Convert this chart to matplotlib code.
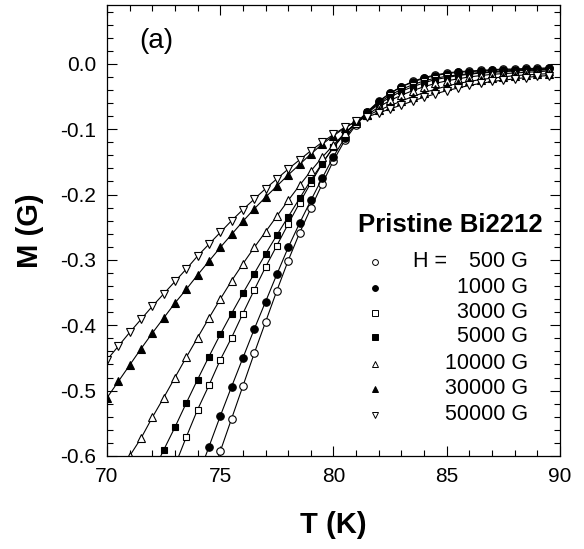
import numpy as np
import matplotlib
matplotlib.use("Agg")
import matplotlib.pyplot as plt

plt.rcParams['font.family'] = ['Liberation Sans', 'DejaVu Sans']

# ---- data ----
fields = ["500 G", "1000 G", "3000 G", "5000 G", "10000 G", "30000 G", "50000 G"]

t_500 = np.arange(74.5, 89.51, 0.5)
m_500 = [-0.643, -0.593, -0.543, -0.493, -0.443, -0.395, -0.347, -0.301, -0.259, -0.221,
         -0.184, -0.148, -0.117, -0.093, -0.074, -0.058, -0.045, -0.035, -0.027, -0.021,
         -0.017, -0.014, -0.012, -0.011, -0.010, -0.009, -0.008, -0.008, -0.007, -0.007, -0.006]

t_1000 = np.arange(74.0, 89.51, 0.5)
m_1000 = [-0.633, -0.586, -0.539, -0.494, -0.450, -0.406, -0.364, -0.322, -0.281, -0.244,
          -0.209, -0.175, -0.142, -0.113, -0.091, -0.073, -0.057, -0.045, -0.035, -0.028,
          -0.022, -0.018, -0.015, -0.013, -0.012, -0.011, -0.010, -0.009, -0.009, -0.008,
          -0.008, -0.007]

t_3000 = np.arange(73.0, 89.51, 0.5)
m_3000 = [-0.615, -0.571, -0.529, -0.492, -0.453, -0.419, -0.382, -0.346, -0.311, -0.278,
          -0.245, -0.213, -0.182, -0.153, -0.127, -0.106, -0.090, -0.074, -0.060, -0.048,
          -0.039, -0.032, -0.026, -0.022, -0.019, -0.017, -0.015, -0.013, -0.012, -0.011,
          -0.010, -0.009, -0.009, -0.008]

t_5000 = np.arange(72.0, 89.51, 0.5)
m_5000 = [-0.627, -0.591, -0.556, -0.519, -0.483, -0.448, -0.414, -0.382, -0.351, -0.321,
          -0.291, -0.262, -0.234, -0.206, -0.178, -0.152, -0.128, -0.107, -0.090, -0.075,
          -0.062, -0.051, -0.042, -0.035, -0.029, -0.024, -0.021, -0.018, -0.016, -0.014,
          -0.013, -0.012, -0.011, -0.010, -0.010, -0.009]

t_10000 = np.arange(70.5, 89.51, 0.5)
m_10000 = [-0.628, -0.600, -0.573, -0.541, -0.511, -0.480, -0.449, -0.419, -0.389, -0.360,
           -0.332, -0.306, -0.281, -0.257, -0.233, -0.209, -0.186, -0.164, -0.143, -0.124,
           -0.106, -0.091, -0.078, -0.066, -0.056, -0.048, -0.041, -0.035, -0.030, -0.026,
           -0.023, -0.020, -0.018, -0.016, -0.015, -0.014, -0.013, -0.012, -0.011]

t_30000 = np.arange(70.0, 89.51, 0.5)
m_30000 = [-0.511, -0.486, -0.461, -0.436, -0.412, -0.389, -0.366, -0.345, -0.323, -0.302,
           -0.281, -0.261, -0.241, -0.222, -0.204, -0.187, -0.170, -0.154, -0.138, -0.123,
           -0.110, -0.098, -0.088, -0.079, -0.071, -0.064, -0.057, -0.050, -0.044, -0.039,
           -0.034, -0.030, -0.027, -0.024, -0.022, -0.020, -0.018, -0.017, -0.016, -0.015]

t_50000 = np.arange(70.0, 89.51, 0.5)
m_50000 = [-0.453, -0.432, -0.411, -0.391, -0.371, -0.352, -0.333, -0.314, -0.294, -0.276,
           -0.258, -0.240, -0.223, -0.207, -0.191, -0.176, -0.161, -0.147, -0.133, -0.120,
           -0.108, -0.097, -0.088, -0.081, -0.075, -0.069, -0.063, -0.057, -0.051, -0.046,
           -0.041, -0.037, -0.033, -0.030, -0.027, -0.025, -0.023, -0.021, -0.019, -0.018]

series_t = [t_500, t_1000, t_3000, t_5000, t_10000, t_30000, t_50000]
series_m = [m_500, m_1000, m_3000, m_5000, m_10000, m_30000, m_50000]
markers = ['o', 'o', 's', 's', '^', '^', 'v']
faces = ['white', 'black', 'white', 'black', 'white', 'black', 'white']
msizes = [5.4, 5.4, 5.0, 5.0, 6.0, 6.0, 6.0]

# ---- figure ----
fig = plt.figure(figsize=(5.84, 5.49), dpi=100)
ax = fig.add_axes([0.1832, 0.1694, 0.7757, 0.8215])

for t, m, mk, fc, ms in zip(series_t, series_m, markers, faces, msizes):
    ax.plot(t, m, color='black', lw=0.8, marker=mk, markersize=ms,
            markerfacecolor=fc, markeredgecolor='black', markeredgewidth=0.8)

ax.set_xlim(70, 90)
ax.set_ylim(-0.6, 0.09)
ax.set_xticks([70, 75, 80, 85, 90])
ax.set_xticks(np.arange(70, 90.1, 1), minor=True)
ax.set_yticks([-0.6, -0.5, -0.4, -0.3, -0.2, -0.1, 0.0])
ax.set_yticks(np.arange(-0.6, 0.0901, 0.02), minor=True)
ax.set_yticklabels(['-0.6', '-0.5', '-0.4', '-0.3', '-0.2', '-0.1', '0.0'])
ax.tick_params(which='both', direction='in', top=True, right=True, labelsize=15,
               width=0.8)
ax.tick_params(which='major', length=7, pad=8)
ax.tick_params(which='minor', length=4)
for s in ax.spines.values():
    s.set_linewidth(0.9)

fig.text(0.571, 0.043, 'T (K)', ha='center', va='center', fontsize=21, fontweight='bold')
fig.text(0.052, 0.58, 'M (G)', ha='center', va='center', rotation=90,
         fontsize=21, fontweight='bold')

ax.text(0.071, 0.921, '(a)', transform=ax.transAxes, fontsize=20, ha='left', va='center')

# ---- legend drawn manually ----
ax.text(0.757, 0.512, 'Pristine Bi2212', transform=ax.transAxes, fontsize=18.5,
        fontweight='bold', ha='center', va='center')
row_y = [262, 288, 313, 337, 364, 389, 415]
for i, (lab, mk, fc) in enumerate(zip(fields, markers, faces)):
    yf = (456 - row_y[i]) / 451
    ax.plot([0.592], [yf], transform=ax.transAxes, marker=mk, markersize=4.2,
            markerfacecolor=fc, markeredgecolor='black', markeredgewidth=0.7,
            linestyle='none', clip_on=False)
    ax.text(0.929, yf, lab, transform=ax.transAxes, fontsize=15.5, ha='right', va='center')
    if i == 0:
        ax.text(0.675, yf, 'H =', transform=ax.transAxes, fontsize=15.5, ha='left', va='center')

fig.savefig('out.png', dpi=100)
